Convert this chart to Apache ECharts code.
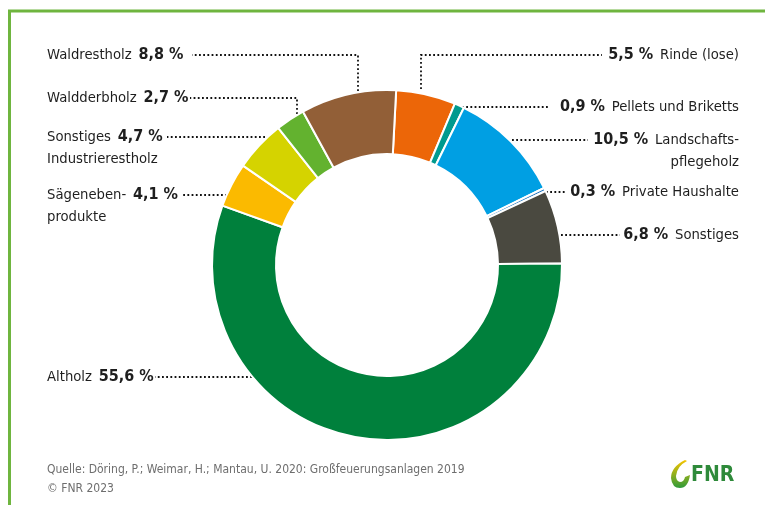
<!DOCTYPE html>
<html>
<head>
<meta charset="utf-8">
<script src="https://cdn.jsdelivr.net/npm/echarts@6/dist/echarts.min.js"></script>
<style>
  html, body { margin: 0; padding: 0; background: #fff; }
  #chart { width: 765px; height: 505px; }
</style>
</head>
<body>
<div id="chart"></div>
<script>
// Anteile der Holzsortimente (clockwise from the top)
var names = ['Rinde (lose)', 'Pellets und Briketts', 'Landschafts-\npflegeholz', 'Private Haushalte', 'Sonstiges',
  'Altholz', 'Sägeneben-\nprodukte', 'Sonstiges\nIndustrierestholz', 'Waldderbholz', 'Waldrestholz']
var values = [5.5, 0.9, 10.5, 0.3, 6.8, 55.6, 4.1, 4.7, 2.7, 8.8]
var colors = ['#ec6608', '#009a8e', '#009fe3', '#1f72bd', '#4a4940',
  '#00803c', '#fbba00', '#d5d300', '#63b22f', '#925f37']

// label placement: [x, first line y, side]
var labelPos = [
  [739, 55, 'right'], [739, 107, 'right'], [739, 140, 'right'], [739, 192, 'right'], [739, 235, 'right'],
  [47, 377, 'left'], [47, 195, 'left'], [47, 137, 'left'], [47, 98, 'left'], [47, 55, 'left']
]
// leader lines
var linePts = [
  [[421, 89], [421, 55], [602, 55]],
  [[462, 107], [462, 107], [548, 107]],
  [[512, 140], [512, 140], [588, 140]],
  [[546, 192], [546, 192], [567, 192]],
  [[561, 235], [561, 235], [620, 235]],
  [[252, 377], [252, 377], [155, 377]],
  [[227, 195], [227, 195], [182, 195]],
  [[265, 137], [265, 137], [167, 137]],
  [[297, 114], [297, 98], [190, 98]],
  [[358, 91], [358, 55], [192, 55]]
]

var FONT = "'DejaVu Sans Condensed', 'DejaVu Sans', sans-serif"
var LH = 22

function fmt (v) {
  return v.toFixed(1).replace('.', ',') + ' %'
}

// FNR flame mark
echarts.graphic.registerShape('fnrFlame', echarts.graphic.extendPath(
  'M 685 460 Q 671 467 671 478 Q 672 488 680 488 Q 688 488 690 475 L 685 477 Q 684 482 680 482 Q 676 481 676 476 Q 677 466 687 461 Z'
))

var chart = echarts.init(document.getElementById('chart'), null, { renderer: 'canvas' })

var option = {
  animation: false,
  backgroundColor: '#fff',
  graphic: [
    {
      type: 'polyline',
      shape: { points: [[9.5, 505], [9.5, 11], [765, 11]] },
      style: { stroke: '#6fb53f', lineWidth: 3, fill: null }
    },
    {
      type: 'text', x: 47, y: 470,
      style: { text: 'Quelle: Döring, P.; Weimar, H.; Mantau, U. 2020: Großfeuerungsanlagen 2019',
        font: '12px ' + FONT, fill: '#6e6e6e', verticalAlign: 'middle' }
    },
    {
      type: 'text', x: 47, y: 489,
      style: { text: '© FNR 2023', font: '12px ' + FONT, fill: '#6e6e6e', verticalAlign: 'middle' }
    },
    {
      type: 'fnrFlame',
      style: {
        fill: {
          type: 'linear', x: 0, y: 0, x2: 0, y2: 1,
          colorStops: [{ offset: 0, color: '#f6c400' }, { offset: 1, color: '#2f9a3a' }]
        }
      }
    },
    {
      type: 'text', x: 691, y: 476,
      style: { text: 'FNR', font: 'bold 21px ' + FONT, fill: '#2e8a3a', verticalAlign: 'middle' }
    }
  ],
  series: [
    {
      type: 'pie',
      center: [387, 265],
      radius: [111, 175],
      startAngle: 87,
      clockwise: true,
      avoidLabelOverlap: false,
      emphasis: { disabled: true },
      itemStyle: { borderColor: '#fff', borderWidth: 2 },
      label: {
        show: true,
        position: 'outside',
        fontFamily: FONT,
        formatter: function (p) {
          var parts = p.name.split('\n')
          var v = fmt(p.value)
          var first = labelPos[p.dataIndex][2] === 'right'
            ? '{v|' + v + '}  {n|' + parts[0] + '}'
            : '{n|' + parts[0] + '}  {v|' + v + '}'
          return parts.length > 1 ? first + '\n{n|' + parts[1] + '}' : first
        },
        rich: {
          n: { fontFamily: FONT, fontSize: 14.7, color: '#1e1e1e', lineHeight: LH },
          v: { fontFamily: FONT, fontSize: 16, fontWeight: 'bold', color: '#1e1e1e', lineHeight: LH }
        }
      },
      labelLine: {
        show: true,
        lineStyle: { color: '#111', width: 1.8, type: [1.8, 2.4] }
      },
      labelLayout: function (p) {
        var pos = labelPos[p.dataIndex]
        return {
          x: pos[0],
          y: pos[1] - LH / 2,
          align: pos[2],
          verticalAlign: 'top',
          labelLinePoints: linePts[p.dataIndex]
        }
      },
      data: names.map(function (n, i) {
        return { name: n, value: values[i], itemStyle: { color: colors[i] }, label: { align: labelPos[i][2] } }
      })
    }
  ]
}

chart.setOption(option)
</script>
</body>
</html>
